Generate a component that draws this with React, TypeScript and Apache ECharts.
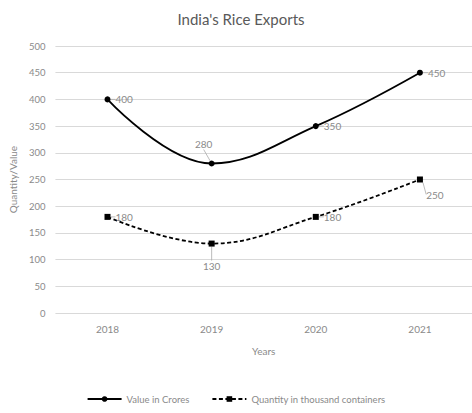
import React, { useEffect, useRef } from "react";
import * as echarts from "echarts";

const years = ["2018", "2019", "2020", "2021"];
const valueCrores = [400, 280, 350, 450];
const quantityThousand = [180, 130, 180, 250];
const valueLabelPos = ["right", "top", "right", "right"];
const quantityLabelPos = ["right", "bottom", "right", "bottom"];

const FONT = "Lato, 'Open Sans', sans-serif";
const GRAY = "#8a8a8a";

export default function App() {
  const ref = useRef<HTMLDivElement>(null);
  useEffect(() => {
    const chart = echarts.init(ref.current!, undefined, { renderer: "svg" });
    const mk = (vals: number[], pos: string[]) =>
      vals.map((v, i) => ({ value: v, label: { position: pos[i] } }));
    chart.setOption({
      animation: false,
      textStyle: { fontFamily: FONT },
      title: {
        text: "India's Rice Exports",
        left: 236,
        textAlign: "center",
        top: 6,
        textStyle: { fontFamily: FONT, fontSize: 15, fontWeight: "normal", color: "#595959" },
      },
      grid: { left: 53, top: 46, width: 423, height: 267, containLabel: false },
      legend: {
        bottom: 4,
        left: "center",
        itemWidth: 34,
        itemHeight: 7,
        itemGap: 22,
        textStyle: { fontFamily: FONT, fontSize: 9.5, color: GRAY },
        data: ["Value in Crores", "Quantity in thousand containers"],
      },
      xAxis: {
        type: "category",
        data: years,
        name: "Years",
        nameLocation: "middle",
        nameGap: 33,
        nameTextStyle: { fontFamily: FONT, fontSize: 10, color: GRAY },
        axisLine: { show: false },
        axisTick: { show: false },
        axisLabel: { fontFamily: FONT, fontSize: 10, color: GRAY, margin: 11 },
      },
      yAxis: {
        type: "value",
        min: 0,
        max: 500,
        interval: 50,
        name: "Quantity/Value",
        nameLocation: "middle",
        nameGap: 34,
        nameTextStyle: { fontFamily: FONT, fontSize: 10, color: GRAY },
        axisLabel: { fontFamily: FONT, fontSize: 9.5, color: GRAY, margin: 10 },
        splitLine: { lineStyle: { color: "#d9d9d9", width: 1 } },
      },
      series: [
        {
          name: "Value in Crores",
          type: "line",
          smooth: 0.4,
          data: mk(valueCrores, valueLabelPos),
          symbol: "circle",
          symbolSize: 6,
          itemStyle: { color: "#000" },
          lineStyle: { color: "#000", width: 1.8, type: "solid" },
          label: { show: true, fontFamily: FONT, fontSize: 10, color: GRAY, distance: 5 },
          labelLine: { show: true, lineStyle: { color: "#aaa", width: 0.8 } },
          labelLayout: (p: any) =>
            p.dataIndex === 1 ? { dx: -8, dy: -6 } : {},
        },
        {
          name: "Quantity in thousand containers",
          type: "line",
          smooth: 0.4,
          data: mk(quantityThousand, quantityLabelPos),
          symbol: "rect",
          symbolSize: 6,
          itemStyle: { color: "#000" },
          lineStyle: { color: "#000", width: 1.8, type: [4, 2.5] },
          label: { show: true, fontFamily: FONT, fontSize: 10, color: GRAY, distance: 5 },
          labelLine: { show: true, lineStyle: { color: "#aaa", width: 0.8 } },
          labelLayout: (p: any) =>
            p.dataIndex === 1 ? { dy: 9 } : p.dataIndex === 3 ? { dx: 15, dy: 2 } : {},
        },
      ],
    });
    return () => chart.dispose();
  }, []);
  return (
    <div
      ref={ref}
      style={{ position: "fixed", left: 0, top: 0, width: 472, height: 413, background: "#fff" }}
    />
  );
}
